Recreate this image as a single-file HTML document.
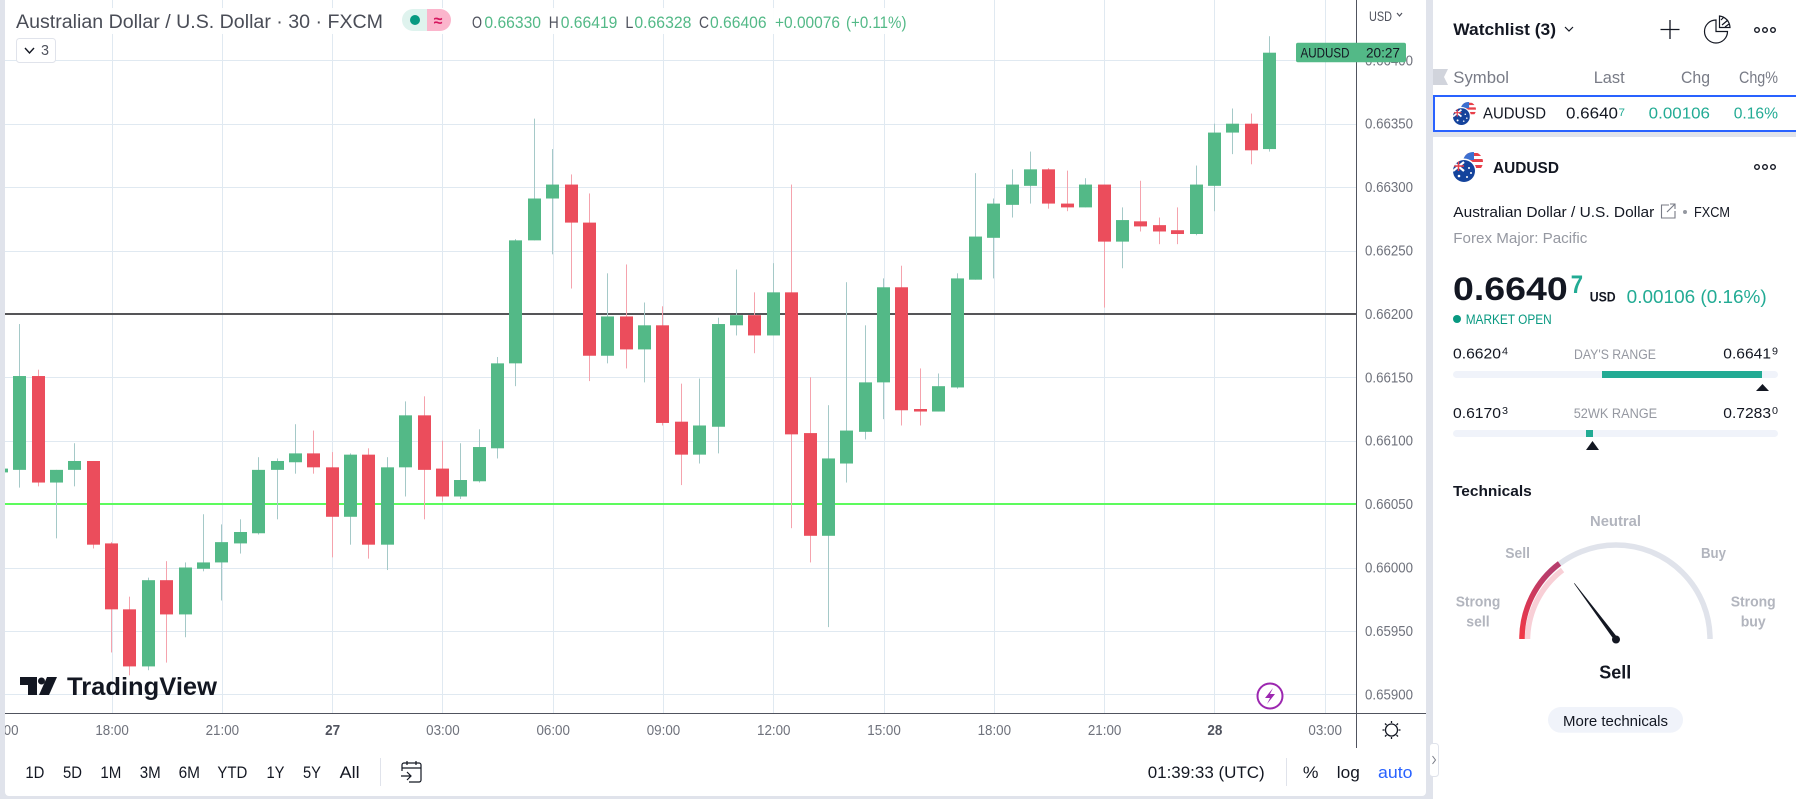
<!DOCTYPE html>
<html lang="en">
<head>
<meta charset="utf-8">
<title>AUDUSD 30 chart</title>
<style>
html,body{margin:0;padding:0;background:#e0e3eb;width:1796px;height:799px;overflow:hidden}
svg{display:block;font-family:"Liberation Sans",sans-serif}
text{white-space:pre}
</style>
</head>
<body>
<svg id="root" xmlns="http://www.w3.org/2000/svg" width="1796" height="799" viewBox="0 0 1796 799">
<defs>
<clipPath id="pane-clip"><rect x="5" y="0" width="1352" height="713"/></clipPath>
<clipPath id="us-clip"><circle cx="20" cy="10" r="10"/></clipPath>
<clipPath id="au-clip"><circle cx="11" cy="19" r="11"/></clipPath>
<linearGradient id="sell-grad" x1="0" y1="1" x2="0.4" y2="0"><stop offset="0" stop-color="#f23645"/><stop offset="1" stop-color="#b73d6c"/></linearGradient>
<symbol id="flag-pair" viewBox="0 0 30 30">
<g clip-path="url(#us-clip)">
<rect x="10" y="0" width="20" height="20" fill="#fff"/>
<rect x="10" y="1" width="20" height="3" fill="#e8404a"/><rect x="10" y="7" width="20" height="3" fill="#e8404a"/><rect x="10" y="13" width="20" height="3" fill="#e8404a"/>
<rect x="10" y="0" width="11" height="8" fill="#3c6fd0"/>
</g>
<circle cx="11" cy="19" r="12.5" fill="#fff"/>
<g clip-path="url(#au-clip)">
<rect x="0" y="8" width="22" height="22" fill="#14439c"/>
<path d="M0 10 L11 19 M11 10 L0 19" stroke="#fff" stroke-width="2.2"/>
<path d="M5.5 9 V19 M0 14 H11" stroke="#e8404a" stroke-width="1.5"/>
<circle cx="6" cy="24" r="1.3" fill="#fff"/><circle cx="16" cy="16" r="1" fill="#fff"/><circle cx="18" cy="21" r="1" fill="#fff"/><circle cx="14" cy="25" r="1" fill="#fff"/>
</g>
</symbol>
</defs>

<rect x="0" y="0" width="1796" height="799" fill="#e0e3eb"/>
<rect x="5" y="-10" width="1421" height="806" rx="4" fill="#ffffff"/>
<rect x="1433" y="0" width="363" height="799" fill="#ffffff"/>

<g id="grid" clip-path="url(#pane-clip)"></g>
<rect x="14" y="8" width="900" height="26" fill="#ffffff" fill-opacity="0.92"/>
<g id="levels" clip-path="url(#pane-clip)"></g>
<g id="candles" clip-path="url(#pane-clip)"></g>
<rect x="1357" y="0" width="69" height="713" fill="#ffffff"/>
<rect x="1356" y="0" width="1" height="748" fill="#50535e"/>
<rect x="5" y="713" width="1421" height="1" fill="#50535e"/>
<g id="price-axis"></g>
<g id="time-axis"></g>

<text x="16" y="28" font-size="19" fill="#4a4d57" textLength="367" lengthAdjust="spacingAndGlyphs">Australian Dollar / U.S. Dollar · 30 · FXCM</text>
<g>
<path d="M413 9 H427 V31 H413 A11 11 0 0 1 413 9 Z" fill="#dff3ee"/>
<path d="M427 9 H440 A11 11 0 0 1 440 31 H427 Z" fill="#fbb5cc"/>
<circle cx="415" cy="20" r="5" fill="#089981"/>
<text x="438" y="26" font-size="16" font-weight="bold" fill="#d6175f" text-anchor="middle">≈</text>
</g>
<g font-size="17">
<text x="472" y="28" fill="#50535e" textLength="10" lengthAdjust="spacingAndGlyphs">O</text>
<text x="484.4" y="28" fill="#53b987" textLength="56.6" lengthAdjust="spacingAndGlyphs">0.66330</text>
<text x="548.7" y="28" fill="#50535e" textLength="10" lengthAdjust="spacingAndGlyphs">H</text>
<text x="560.7" y="28" fill="#53b987" textLength="56.7" lengthAdjust="spacingAndGlyphs">0.66419</text>
<text x="625.4" y="28" fill="#50535e" textLength="8" lengthAdjust="spacingAndGlyphs">L</text>
<text x="634.4" y="28" fill="#53b987" textLength="57" lengthAdjust="spacingAndGlyphs">0.66328</text>
<text x="699" y="28" fill="#50535e" textLength="10" lengthAdjust="spacingAndGlyphs">C</text>
<text x="710" y="28" fill="#53b987" textLength="56.6" lengthAdjust="spacingAndGlyphs">0.66406</text>
<text x="775" y="28" fill="#53b987" textLength="65" lengthAdjust="spacingAndGlyphs">+0.00076</text>
<text x="846" y="28" fill="#53b987" textLength="60.5" lengthAdjust="spacingAndGlyphs">(+0.11%)</text>
</g>
<g>
<rect x="16.5" y="38.5" width="39" height="24" rx="3" fill="#fff" stroke="#e0e3eb"/>
<path d="M25 48 L29.5 53 L34 48" fill="none" stroke="#131722" stroke-width="1.4"/>
<text x="41" y="55" font-size="15" fill="#50535e" textLength="8" lengthAdjust="spacingAndGlyphs">3</text>
</g>
<g>
<text x="1369" y="21" font-size="14" fill="#50535e" textLength="23" lengthAdjust="spacingAndGlyphs">USD</text>
<path d="M1397 13 L1399.5 16 L1402 13" fill="none" stroke="#50535e" stroke-width="1.2"/>
</g>
<g id="price-tag"></g>

<g>
<path d="M20 677 H37 V695 H28 V685 H20 Z" fill="#131722"/>
<circle cx="41.5" cy="681" r="3.5" fill="#131722"/>
<path d="M47 677 H57 L49 695 H39 Z" fill="#131722"/>
<text x="67" y="695" font-size="25" font-weight="bold" fill="#131722" textLength="150" lengthAdjust="spacingAndGlyphs">TradingView</text>
</g>
<g>
<ellipse cx="1270" cy="696" rx="12.5" ry="12.5" fill="#fff" stroke="#9c27b0" stroke-width="2"/>
<path d="M1273 688 L1265 698 H1270 L1267 704 L1275 694 H1270 Z" fill="#9c27b0"/>
</g>
<g stroke="#131722" stroke-width="1.3" fill="none">
<circle cx="1391.5" cy="730" r="6"/>
<path d="M1391.5 721 V723 M1391.5 737 V739 M1382.5 730 H1384.5 M1398.5 730 H1400.5 M1385 723.5 L1386.5 725 M1396.5 735 L1398 736.5 M1385 736.5 L1386.5 735 M1396.5 725 L1398 723.5"/>
</g>

<g font-size="17" fill="#131722">
<text x="25.4" y="778" textLength="19" lengthAdjust="spacingAndGlyphs">1D</text>
<text x="63" y="778" textLength="19" lengthAdjust="spacingAndGlyphs">5D</text>
<text x="100.4" y="778" textLength="21" lengthAdjust="spacingAndGlyphs">1M</text>
<text x="139.7" y="778" textLength="21" lengthAdjust="spacingAndGlyphs">3M</text>
<text x="178.6" y="778" textLength="21.4" lengthAdjust="spacingAndGlyphs">6M</text>
<text x="217.4" y="778" textLength="30" lengthAdjust="spacingAndGlyphs">YTD</text>
<text x="266.5" y="778" textLength="18" lengthAdjust="spacingAndGlyphs">1Y</text>
<text x="303" y="778" textLength="18" lengthAdjust="spacingAndGlyphs">5Y</text>
<text x="339.7" y="778" textLength="20" lengthAdjust="spacingAndGlyphs">All</text>
</g>
<rect x="380" y="758" width="1" height="28" fill="#e0e3eb"/>
<g fill="none" stroke="#131722" stroke-width="1.2">
<path d="M402 771 V765 A2 2 0 0 1 404 763 H419 A2 2 0 0 1 421 765 V780 A2 2 0 0 1 419 782 H409"/>
<path d="M402 768 H421 M407 761 V765 M416 761 V765"/>
<path d="M401 776 H411 M407 772 L411 776 L407 780"/>
</g>
<text x="1147.7" y="778" font-size="17" fill="#131722" textLength="117" lengthAdjust="spacingAndGlyphs">01:39:33 (UTC)</text>
<rect x="1286" y="758" width="1" height="28" fill="#e0e3eb"/>
<text x="1302.9" y="778" font-size="17" fill="#131722" textLength="15.6" lengthAdjust="spacingAndGlyphs">%</text>
<text x="1336.8" y="778" font-size="17" fill="#131722" textLength="23" lengthAdjust="spacingAndGlyphs">log</text>
<text x="1378" y="778" font-size="17" fill="#2962ff" textLength="34.5" lengthAdjust="spacingAndGlyphs">auto</text>

<!-- Side panel -->
<g>
<text x="1453.3" y="35" font-size="16.5" font-weight="bold" fill="#131722" textLength="102.7" lengthAdjust="spacingAndGlyphs">Watchlist (3)</text>
<path d="M1565 27 L1569 31 L1573 27" fill="none" stroke="#131722" stroke-width="1.2"/>
<path d="M1670 20 V39 M1660.5 29.5 H1679.5" stroke="#131722" stroke-width="1.3" fill="none"/>
<g fill="none" stroke="#131722" stroke-width="1.2">
<path d="M1716 20 A11.5 11.5 0 1 0 1727.5 31.5 H1716 Z"/>
<path d="M1719.5 16 A12 12 0 0 1 1730 27.5 H1719.5 Z"/>
<path d="M1721 20 L1724 17 M1722 25 L1728 20 M1725 27 L1729 24"/>
</g>
<g fill="none" stroke="#131722" stroke-width="1.4"><circle cx="1757" cy="30" r="2.3"/><circle cx="1765" cy="30" r="2.3"/><circle cx="1773" cy="30" r="2.3"/></g>
</g>
<path d="M1433 69 H1448 L1444 77 L1448 85 H1433 Z" fill="#d1d4dc"/>
<g font-size="17" fill="#787b86">
<text x="1453.3" y="83" textLength="55.7" lengthAdjust="spacingAndGlyphs">Symbol</text>
<text x="1593.7" y="83" textLength="31" lengthAdjust="spacingAndGlyphs">Last</text>
<text x="1681" y="83" textLength="29" lengthAdjust="spacingAndGlyphs">Chg</text>
<text x="1739" y="83" textLength="39" lengthAdjust="spacingAndGlyphs">Chg%</text>
</g>
<g>
<rect x="1434" y="96" width="363" height="35" fill="#fff" stroke="#2962ff" stroke-width="2"/>
<use href="#flag-pair" x="1453" y="102" width="23" height="23"/>
<text x="1483" y="118.5" font-size="16" fill="#131722" textLength="63" lengthAdjust="spacingAndGlyphs">AUDUSD</text>
<text x="1566" y="118.5" font-size="16" fill="#131722" textLength="52" lengthAdjust="spacingAndGlyphs">0.6640</text>
<text x="1618.5" y="116" font-size="11" fill="#22ab94" textLength="6.5" lengthAdjust="spacingAndGlyphs">7</text>
<text x="1648.7" y="118.5" font-size="16" fill="#22ab94" textLength="61.3" lengthAdjust="spacingAndGlyphs">0.00106</text>
<text x="1733.7" y="118.5" font-size="16" fill="#22ab94" textLength="44.3" lengthAdjust="spacingAndGlyphs">0.16%</text>
</g>
<rect x="1433" y="132" width="363" height="5" fill="#e0e3eb"/>

<use href="#flag-pair" x="1453" y="152" width="30" height="30"/>
<text x="1493" y="173" font-size="16" font-weight="bold" fill="#131722" textLength="66" lengthAdjust="spacingAndGlyphs">AUDUSD</text>
<g fill="none" stroke="#131722" stroke-width="1.4"><circle cx="1757" cy="167" r="2.3"/><circle cx="1765" cy="167" r="2.3"/><circle cx="1773" cy="167" r="2.3"/></g>
<text x="1453.3" y="217" font-size="15" fill="#131722" textLength="201" lengthAdjust="spacingAndGlyphs">Australian Dollar / U.S. Dollar</text>
<g fill="none" stroke="#787b86" stroke-width="1.1">
<path d="M1669 205 H1661.5 V218 H1675 V211"/><path d="M1667 212 L1675 204 M1670 204 H1675 V209"/>
</g>
<circle cx="1685" cy="212" r="2" fill="#9598a1"/>
<text x="1694" y="217" font-size="15" fill="#131722" textLength="36" lengthAdjust="spacingAndGlyphs">FXCM</text>
<text x="1453.3" y="243" font-size="15" fill="#9598a1" textLength="134" lengthAdjust="spacingAndGlyphs">Forex Major: Pacific</text>
<text x="1453" y="300" font-size="32" font-weight="bold" fill="#131722" textLength="114.7" lengthAdjust="spacingAndGlyphs">0.6640</text>
<text x="1570.7" y="293" font-size="25" font-weight="bold" fill="#22ab94" textLength="12.3" lengthAdjust="spacingAndGlyphs">7</text>
<text x="1589.7" y="301.7" font-size="14" font-weight="bold" fill="#131722" textLength="26" lengthAdjust="spacingAndGlyphs">USD</text>
<text x="1626.7" y="303" font-size="18" fill="#22ab94" textLength="140" lengthAdjust="spacingAndGlyphs">0.00106 (0.16%)</text>
<circle cx="1457" cy="319" r="4" fill="#089981"/>
<text x="1465.7" y="324" font-size="13.5" fill="#089981" textLength="86" lengthAdjust="spacingAndGlyphs">MARKET OPEN</text>

<g>
<text x="1453" y="358.7" font-size="15" fill="#131722" textLength="48" lengthAdjust="spacingAndGlyphs">0.6620</text>
<text x="1502" y="354.7" font-size="10.5" fill="#131722" textLength="6" lengthAdjust="spacingAndGlyphs">4</text>
<text x="1574" y="359" font-size="13.5" fill="#9598a1" textLength="82" lengthAdjust="spacingAndGlyphs">DAY'S RANGE</text>
<text x="1723.3" y="358.7" font-size="15" fill="#131722" textLength="47.7" lengthAdjust="spacingAndGlyphs">0.6641</text>
<text x="1772" y="354.7" font-size="10.5" fill="#131722" textLength="6" lengthAdjust="spacingAndGlyphs">9</text>
<rect x="1453" y="371" width="325" height="7" rx="3.5" fill="#f0f3fa"/>
<rect x="1602" y="371" width="160" height="7" fill="#22ab94"/>
<path d="M1762.5 384 L1769 391 H1756 Z" fill="#131722"/>
</g>
<g>
<text x="1453" y="418" font-size="15" fill="#131722" textLength="48" lengthAdjust="spacingAndGlyphs">0.6170</text>
<text x="1502" y="414" font-size="10.5" fill="#131722" textLength="6" lengthAdjust="spacingAndGlyphs">3</text>
<text x="1573.7" y="418" font-size="13.5" fill="#9598a1" textLength="83.5" lengthAdjust="spacingAndGlyphs">52WK RANGE</text>
<text x="1723.3" y="418" font-size="15" fill="#131722" textLength="47.7" lengthAdjust="spacingAndGlyphs">0.7283</text>
<text x="1772" y="414" font-size="10.5" fill="#131722" textLength="6" lengthAdjust="spacingAndGlyphs">0</text>
<rect x="1453" y="430" width="325" height="7" rx="3.5" fill="#f0f3fa"/>
<rect x="1586" y="430" width="7" height="7" fill="#22ab94"/>
<path d="M1592.5 441 L1599 450 H1586 Z" fill="#131722"/>
</g>

<text x="1453" y="496" font-size="15" font-weight="bold" fill="#131722" textLength="78.7" lengthAdjust="spacingAndGlyphs">Technicals</text>
<g>
<path d="M1522 639 A94 94 0 0 1 1710 639" fill="none" stroke="#e0e3eb" stroke-width="5.5"/>
<path d="M1527.5 639 A88.5 88.5 0 0 1 1562.5 570" fill="none" stroke="#f8cfd6" stroke-width="5.5"/>
<path d="M1522 639 A94 94 0 0 1 1559.5 563.5" fill="none" stroke="url(#sell-grad)" stroke-width="5.5"/>
<path d="M1574.3 583.3 L1617.5 638 L1614.5 640 Z" fill="#131722" stroke="#131722" stroke-width="0.6"/>
<circle cx="1616" cy="639.5" r="4" fill="#131722"/>
<g font-size="15" font-weight="bold" fill="#b2b5be">
<text x="1590" y="526" textLength="51" lengthAdjust="spacingAndGlyphs">Neutral</text>
<text x="1505.3" y="558" textLength="24.7" lengthAdjust="spacingAndGlyphs">Sell</text>
<text x="1701" y="558" textLength="25" lengthAdjust="spacingAndGlyphs">Buy</text>
<text x="1455.7" y="606.7" textLength="44.6" lengthAdjust="spacingAndGlyphs">Strong</text>
<text x="1466.3" y="626.7" textLength="23.4" lengthAdjust="spacingAndGlyphs">sell</text>
<text x="1730.7" y="606.7" textLength="45" lengthAdjust="spacingAndGlyphs">Strong</text>
<text x="1740.7" y="626.7" textLength="25" lengthAdjust="spacingAndGlyphs">buy</text>
</g>
<text x="1599.3" y="678.3" font-size="18" font-weight="bold" fill="#131722" textLength="32" lengthAdjust="spacingAndGlyphs">Sell</text>
</g>
<g>
<rect x="1548" y="707" width="135" height="25.7" rx="12.8" fill="#f0f3fa"/>
<text x="1563" y="726" font-size="15" fill="#131722" textLength="105" lengthAdjust="spacingAndGlyphs">More technicals</text>
</g>
<g>
<rect x="1429.5" y="743.5" width="9" height="33" rx="3" fill="#fff" stroke="#e0e3eb"/>
<path d="M1432.5 756 L1435.5 760 L1432.5 764" fill="none" stroke="#787b86" stroke-width="1"/>
</g>

<script>
// Chart data (oldest to newest, 30-minute bars)
var openPrices = [0.66075,0.66077,0.66151,0.66067,0.66077,0.66084,0.66019,0.65967,0.65922,0.65990,0.65963,0.65999,0.66004,0.66019,0.66027,0.66077,0.66083,0.66090,0.66079,0.66040,0.66089,0.66018,0.66079,0.66120,0.66078,0.66056,0.66068,0.66094,0.66161,0.66258,0.66291,0.66302,0.66272,0.66167,0.66198,0.66172,0.66191,0.66115,0.66089,0.66111,0.66191,0.66199,0.66183,0.66217,0.66106,0.66025,0.66082,0.66107,0.66146,0.66221,0.66125,0.66123,0.66142,0.66227,0.66260,0.66286,0.66301,0.66314,0.66287,0.66284,0.66302,0.66257,0.66273,0.66270,0.66266,0.66263,0.66301,0.66343,0.66350,0.66330];
var highPrices = [0.66078,0.66192,0.66156,0.66077,0.66098,0.66084,0.66020,0.65977,0.65992,0.66005,0.66004,0.66042,0.66034,0.66038,0.66087,0.66086,0.66113,0.66108,0.66091,0.66090,0.66094,0.66087,0.66131,0.66135,0.66100,0.66098,0.66109,0.66166,0.66259,0.66354,0.66330,0.66310,0.66295,0.66232,0.66239,0.66209,0.66206,0.66145,0.66149,0.66197,0.66235,0.66217,0.66240,0.66302,0.66150,0.66128,0.66225,0.66191,0.66228,0.66238,0.66157,0.66153,0.66232,0.66311,0.66291,0.66314,0.66328,0.66315,0.66313,0.66307,0.66302,0.66284,0.66305,0.66276,0.66284,0.66317,0.66350,0.66362,0.66358,0.66419];
var lowPrices = [0.66075,0.66063,0.66064,0.66023,0.66064,0.66015,0.65933,0.65915,0.65919,0.65925,0.65945,0.65997,0.65974,0.66011,0.66026,0.66038,0.66074,0.66074,0.66008,0.66018,0.66007,0.65998,0.66056,0.66038,0.66052,0.66054,0.66067,0.66086,0.66143,0.66258,0.66247,0.66220,0.66147,0.66161,0.66157,0.66146,0.66112,0.66065,0.66082,0.66090,0.66183,0.66169,0.66183,0.66031,0.66004,0.65953,0.66067,0.66101,0.66117,0.66112,0.66112,0.66123,0.66141,0.66227,0.66228,0.66276,0.66287,0.66283,0.66281,0.66284,0.66205,0.66236,0.66265,0.66255,0.66255,0.66262,0.66281,0.66326,0.66318,0.66328];
var closePrices = [0.66078,0.66151,0.66067,0.66077,0.66084,0.66018,0.65967,0.65922,0.65990,0.65963,0.66000,0.66004,0.66020,0.66028,0.66077,0.66084,0.66090,0.66079,0.66040,0.66089,0.66018,0.66079,0.66120,0.66077,0.66056,0.66069,0.66095,0.66161,0.66258,0.66291,0.66302,0.66272,0.66167,0.66198,0.66172,0.66191,0.66114,0.66089,0.66112,0.66192,0.66199,0.66183,0.66217,0.66105,0.66025,0.66086,0.66108,0.66146,0.66221,0.66124,0.66123,0.66143,0.66228,0.66261,0.66287,0.66302,0.66314,0.66287,0.66284,0.66302,0.66257,0.66274,0.66269,0.66265,0.66263,0.66302,0.66343,0.66350,0.66329,0.66406];
var priceTicks = [0.664,0.6635,0.663,0.6625,0.662,0.6615,0.661,0.6605,0.66,0.6595,0.659];
var timeTickLabels = ['15:00','18:00','21:00','27','03:00','06:00','09:00','12:00','15:00','18:00','21:00','28','03:00'];
var horizontalLevels = [0.662,0.6605];
var levelColors = ['#555558','#5dfb5d'];
var barsPerTimeTick = 6;
var lastPriceSymbol = 'AUDUSD';
var lastPriceCountdown = '20:27';

var SVGNS = 'http://www.w3.org/2000/svg';
var X_ORIGIN = 1.3, BAR_STEP = 18.38, BODY_WIDTH = 13;
var Y_REF_PRICE = 0.664, Y_REF_PIXEL = 60.3, PIXELS_PER_UNIT = 126800;

function xScale(index) { return X_ORIGIN + index * BAR_STEP; }
function yScale(price) { return Y_REF_PIXEL + (Y_REF_PRICE - price) * PIXELS_PER_UNIT; }
function make(tag, props) {
  var el = document.createElementNS(SVGNS, tag);
  for (var k in props) { el.setAttribute(k, props[k]); }
  return el;
}

var gridGroup = document.getElementById('grid');
var levelsGroup = document.getElementById('levels');
var candleGroup = document.getElementById('candles');
var priceAxisGroup = document.getElementById('price-axis');
var timeAxisGroup = document.getElementById('time-axis');
var tagGroup = document.getElementById('price-tag');

priceTicks.forEach(function (p) {
  var y = Math.round(yScale(p));
  var line = make('rect', { x: 5, y: y, width: 1352, height: 1, fill: '#e0e9f1' });
  
  
  gridGroup.appendChild(line);
  var label = make('text', { x: 1365, y: yScale(p) + 5, 'font-size': 14.5, fill: '#6f727c', textLength: 48, lengthAdjust: 'spacingAndGlyphs' });
  label.textContent = p.toFixed(5);
  
  
  priceAxisGroup.appendChild(label);
});

timeTickLabels.forEach(function (text, k) {
  var cx = xScale(k * barsPerTimeTick);
  var line = make('rect', { x: Math.round(cx), y: 0, width: 1, height: 713, fill: '#e0e9f1' });
  
  
  gridGroup.appendChild(line);
  var isDay = text.length === 2;
  var label = make('text', { x: cx + 0.5, y: 735, 'font-size': 14.5, 'text-anchor': 'middle', fill: isDay ? '#50535e' : '#6f727c', 'font-weight': isDay ? 'bold' : 'normal', textLength: isDay ? 15 : 33.5, lengthAdjust: 'spacingAndGlyphs' });
  label.textContent = text;
  
  
  var clipWrap = make('g', { 'clip-path': 'url(#pane-clip-time)' });
  timeAxisGroup.appendChild(clipWrap);
  clipWrap.appendChild(label);
});
var timeClip = make('clipPath', { id: 'pane-clip-time' });
timeClip.appendChild(make('rect', { x: 5, y: 714, width: 1352, height: 34 }));
document.querySelector('defs').appendChild(timeClip);

horizontalLevels.forEach(function (p, i) {
  var line = make('rect', { x: 5, y: Math.round(yScale(p)) - 1, width: 1352, height: 2, fill: levelColors[i] });
  
  
  levelsGroup.appendChild(line);
});

openPrices.forEach(function (o, i) {
  var c = closePrices[i], h = highPrices[i], l = lowPrices[i];
  var up = c >= o;
  var cx = xScale(i);
  var left = Math.round(cx - BODY_WIDTH / 2);
  var group = make('g', {});
  
  
  var yh = yScale(h), yl = yScale(l);
  var wick = make('rect', { x: left + 6, y: yh, width: 1, height: Math.max(0, yl - yh), fill: up ? '#a5c9c8' : '#f5a3ad' });
  
  
  group.appendChild(wick);
  var top = yScale(Math.max(o, c)), bottom = yScale(Math.min(o, c));
  var body = make('rect', { x: left, y: top, width: BODY_WIDTH, height: Math.max(1, bottom - top), fill: up ? '#53b987' : '#eb4d5c' });
  
  
  group.appendChild(body);
  candleGroup.appendChild(group);
});

(function () {
  var lastClose = closePrices[closePrices.length - 1];
  var yc = yScale(lastClose);
  var bg = make('rect', { x: 1296, y: yc - 10, width: 110, height: 19.5, rx: 2, fill: '#53b987' });
  
  
  tagGroup.appendChild(bg);
  var sym = make('text', { x: 1300.5, y: yc + 5, 'font-size': 14, fill: '#131722', textLength: 49, lengthAdjust: 'spacingAndGlyphs' });
  sym.textContent = lastPriceSymbol;
  
  
  tagGroup.appendChild(sym);
  var cd = make('text', { x: 1366, y: yc + 5, 'font-size': 14, fill: '#131722', textLength: 34, lengthAdjust: 'spacingAndGlyphs' });
  cd.textContent = lastPriceCountdown;
  
  
  tagGroup.appendChild(cd);
})();
</script>
</svg>
</body>
</html>
